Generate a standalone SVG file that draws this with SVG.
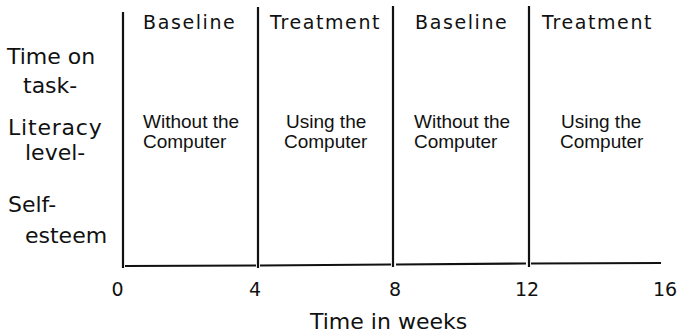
<svg xmlns="http://www.w3.org/2000/svg" width="678" height="335" viewBox="0 0 678 335">
<style>
.ax{stroke:#111;stroke-width:2.2;fill:none;stroke-linecap:butt}
.hd{font-family:"DejaVu Sans",sans-serif;font-size:19px;letter-spacing:1.6px;fill:#111}
.lb{font-family:"DejaVu Sans",sans-serif;font-size:22px;fill:#111}
.bd{font-family:"Liberation Sans",Arial,sans-serif;font-size:19px;fill:#111}
.num{font-family:"DejaVu Sans",sans-serif;font-size:19px;fill:#111;text-anchor:middle}
</style>
<rect width="678" height="335" fill="#fff"/>
<g id="connectors">
<line class="ax" x1="123" y1="12" x2="123" y2="268"/>
<line class="ax" x1="258" y1="7" x2="258" y2="268"/>
<line class="ax" x1="393" y1="6" x2="393" y2="267"/>
<line class="ax" x1="529" y1="6" x2="529" y2="267"/>
<line class="ax" x1="125" y1="266" x2="256" y2="265.5"/>
<line class="ax" x1="260" y1="265.5" x2="391" y2="264.5"/>
<line class="ax" x1="396" y1="264.5" x2="526" y2="263.5"/>
<line class="ax" x1="531" y1="263.5" x2="661" y2="263"/>
</g>
<g id="phase1">
<text class="hd" x="143" y="29">Baseline</text>
<text class="bd" x="143" y="127.5">Without the</text>
<text class="bd" x="143" y="148">Computer</text>
</g>
<g id="phase2">
<text class="hd" x="270" y="29">Treatment</text>
<text class="bd" x="286" y="127.5">Using the</text>
<text class="bd" x="284" y="148">Computer</text>
</g>
<g id="phase3">
<text class="hd" x="415" y="29">Baseline</text>
<text class="bd" x="414" y="127.5">Without the</text>
<text class="bd" x="414" y="148">Computer</text>
</g>
<g id="phase4">
<text class="hd" x="542" y="29">Treatment</text>
<text class="bd" x="561" y="127.5">Using the</text>
<text class="bd" x="560" y="148">Computer</text>
</g>
<g id="ylabels">
<text class="lb" x="7" y="64">Time on</text>
<text class="lb" x="23" y="93">task-</text>
<text class="lb" x="8" y="135" letter-spacing="0.8">Literacy</text>
<text class="lb" x="25" y="160">level-</text>
<text class="lb" x="8" y="212">Self-</text>
<text class="lb" x="25" y="243">esteem</text>
</g>
<g id="xaxis">
<text class="num" x="117.5" y="296">0</text>
<text class="num" x="255" y="296">4</text>
<text class="num" x="395" y="296">8</text>
<text class="num" x="527" y="296">12</text>
<text class="num" x="665" y="296">16</text>
<text class="lb" x="310" y="329">Time in weeks</text>
</g>
</svg>
